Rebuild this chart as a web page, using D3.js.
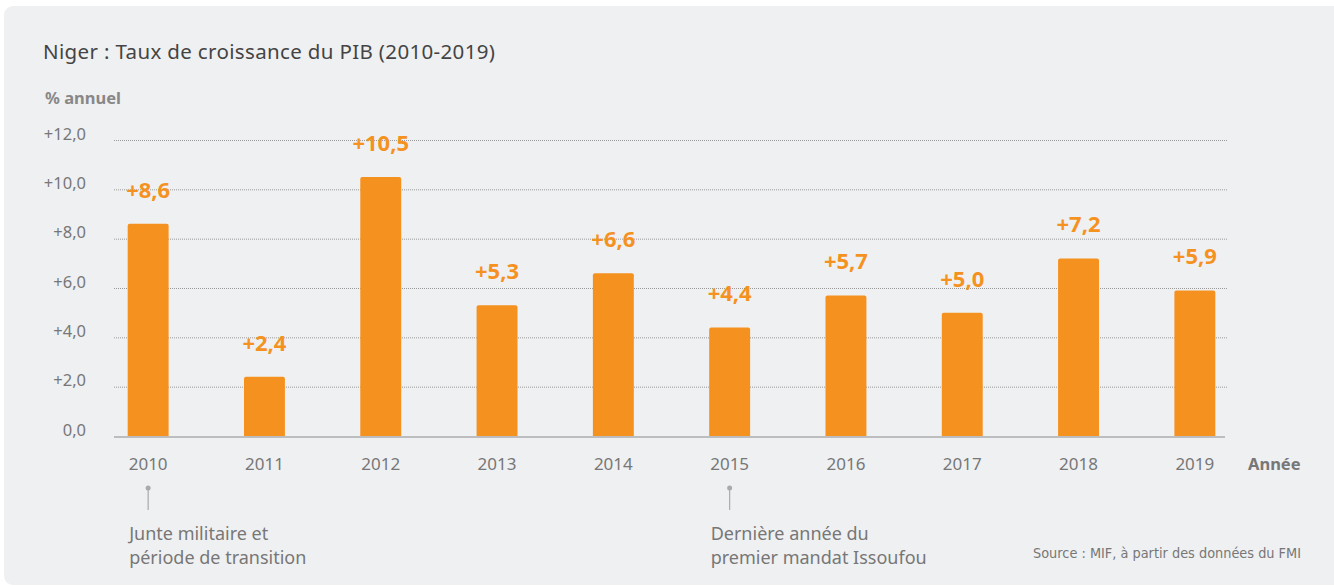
<!DOCTYPE html>
<html><head><meta charset="utf-8">
<script src="https://cdn.jsdelivr.net/npm/d3@7"></script>
<style>
html,body{margin:0;padding:0;background:#fff;}
svg{display:block;font-family:"Noto Sans","Open Sans",sans-serif;}
</style></head>
<body>
<svg id="chart" width="1334" height="586"></svg>
<script>
const years = ["2010","2011","2012","2013","2014","2015","2016","2017","2018","2019"];
const growth = [8.6, 2.4, 10.5, 5.3, 6.6, 4.4, 5.7, 5.0, 7.2, 5.9];
const valueLabels = ["+8,6","+2,4","+10,5","+5,3","+6,6","+4,4","+5,7","+5,0","+7,2","+5,9"];
const yTicks = [0, 2, 4, 6, 8, 10, 12];
const yTickLabels = ["0,0","+2,0","+4,0","+6,0","+8,0","+10,0","+12,0"];
const annotationYears = ["2010","2015"];
const annotationTexts = [["Junte militaire et","période de transition"],["Dernière année du","premier mandat Issoufou"]];

const svg = d3.select("#chart");
svg.append("rect").attr("x",4).attr("y",6).attr("width",1340).attr("height",579)
  .attr("rx",9).attr("fill","#eff0f2");

const x = d3.scaleBand().domain(years).range([90, 1253]).paddingInner(0.648).paddingOuter(0.324);
const y = d3.scaleLinear().domain([0, 12]).range([436, 140]);

// title
svg.append("text").attr("x",43).attr("y",59).attr("font-size",20.5).attr("fill","#444")
  .attr("textLength",452).attr("lengthAdjust","spacing")
  .text("Niger : Taux de croissance du PIB (2010-2019)");
svg.append("text").attr("x",45).attr("y",104).attr("font-size",16.5).attr("font-weight","bold").attr("fill","#888")
  .text("% annuel");

// grid
const grid = svg.append("g");
grid.selectAll("line").data(yTicks.filter(d=>d>0)).join("line")
  .attr("x1",114).attr("x2",1228).attr("y1",d=>y(d)+0.5).attr("y2",d=>y(d)+0.5)
  .attr("stroke","#9a9a9a").attr("stroke-width",1).attr("stroke-dasharray","1,1");

// y axis labels
const yAxis = d3.axisLeft(y).tickValues(yTicks).tickFormat((d,i)=>yTickLabels[i]).tickSize(0).tickPadding(0);
const ya = svg.append("g").attr("transform","translate(86,0)").call(yAxis);
ya.select(".domain").remove();
ya.selectAll("text").attr("font-size",16.5).attr("fill","#777").attr("font-family","Noto Sans, sans-serif")
  .attr("dy","-0.05em");

// bars
svg.append("g").selectAll("path").data(growth).join("path")
  .attr("d",(d,i)=>{
    const x0 = x(years[i]), w = x.bandwidth(), y0 = y(d), y1 = y(0), r = 2;
    return `M${x0},${y1}V${y0+r}Q${x0},${y0} ${x0+r},${y0}H${x0+w-r}Q${x0+w},${y0} ${x0+w},${y0+r}V${y1}Z`;
  })
  .attr("fill","#f5921f");

// baseline
svg.append("line").attr("x1",114).attr("x2",1225).attr("y1",y(0)+1).attr("y2",y(0)+1)
  .attr("stroke","#bdbdbf").attr("stroke-width",2);

// value labels
svg.append("g").selectAll("text").data(growth).join("text")
  .attr("x",(d,i)=>x(years[i])+x.bandwidth()/2).attr("y",d=>y(d)-26)
  .attr("text-anchor","middle").attr("font-size",22).attr("font-weight","bold").attr("fill","#f5921f")
  .text((d,i)=>valueLabels[i]);

// x axis
const xAxis = d3.axisBottom(x).tickSize(0).tickPadding(0);
const xa = svg.append("g").attr("transform","translate(0,470)").call(xAxis);
xa.select(".domain").remove();
xa.selectAll("text").attr("font-size",17).attr("fill","#777").attr("font-family","Noto Sans, sans-serif").attr("dy",0);
svg.append("text").attr("x",1248).attr("y",470).attr("font-size",16.5).attr("font-weight","bold").attr("fill","#777")
  .text("Année");

// annotations
annotationYears.forEach((yr,i)=>{
  const cx = x(yr)+x.bandwidth()/2;
  svg.append("line").attr("x1",cx).attr("x2",cx).attr("y1",488).attr("y2",510).attr("stroke","#aaa").attr("stroke-width",1.2);
  svg.append("circle").attr("cx",cx).attr("cy",488).attr("r",2.5).attr("fill","#aaa");
  const t = svg.append("text").attr("font-size",18).attr("fill","#777");
  annotationTexts[i].forEach((line,j)=>{
    t.append("tspan").attr("x",cx-19).attr("y",540+j*23.5).text(line);
  });
});

// source
svg.append("text").attr("x",1301).attr("y",558).attr("text-anchor","end").attr("font-size",14)
  .attr("fill","#777").attr("font-family","DejaVu Sans Condensed, Liberation Sans Narrow, sans-serif")
  .attr("textLength",268).attr("lengthAdjust","spacingAndGlyphs")
  .text("Source : MIF, à partir des données du FMI");
</script>
</body></html>
